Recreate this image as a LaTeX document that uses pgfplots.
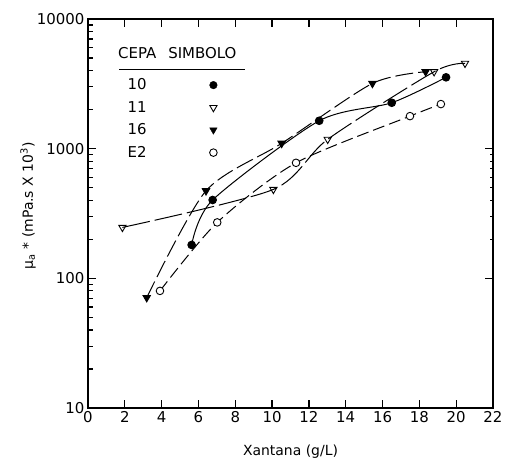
\documentclass[border=0pt]{standalone}
\usepackage{pgfplots}
\pgfplotsset{compat=1.18}
\usepackage{fontspec}
\setmainfont{DejaVu Sans}
\pgfplotsset{every tick/.style={black, line width=1.2pt}}
\pgfplotstableread{
x y
5.63 181
6.77 402
12.56 1641
16.5 2260
19.45 3550
}\tabA
\pgfplotstableread{
x y
1.87 247
10.07 485
13.02 1180
18.8 3920
20.48 4550
}\tabB
\pgfplotstableread{
x y
3.19 71
6.41 473
10.52 1099
15.45 3185
18.34 3920
}\tabC
\pgfplotstableread{
x y
3.91 80
7.02 270
11.3 778
17.49 1782
19.17 2207
}\tabD
\begin{document}
\begin{tikzpicture}
\begin{axis}[
  scale only axis,
  width=405bp, height=389bp,
  xmin=0, xmax=22,
  ymode=log, ymin=10, ymax=10000,
  axis on top,
  tick align=inside,
  xtick={0,2,4,6,8,10,12,14,16,18,20,22},
  xticklabels={0,2,4,6,8,10,12,14,16,18,20,22},
  ytick={10,100,1000,10000},
  yticklabels={10,100,1000,10000},
  minor ytick={20,30,40,50,60,70,80,90,200,300,400,500,600,700,800,900,2000,3000,4000,5000,6000,7000,8000,9000},
  ytick pos=left,
  major tick length=8bp,
  minor tick length=5bp,
  xtick style={black, line width=1.2pt},
  ytick style={black, line width=1.2pt},
  tick label style={font=\fontsize{15}{18}\selectfont},
  xlabel={Xantana (g/L)},
  ylabel={μ\textsubscript{a} * (mPa.s X 10\textsuperscript{3})},
  xlabel style={at={(axis description cs:0.5,-0.113)}, anchor=center, font=\fontsize{14}{17}\selectfont},
  ylabel style={at={(axis description cs:-0.148,0.52)}, anchor=center, font=\fontsize{14}{17}\selectfont},
  axis line style={line width=1.3pt},
  legend style={at={(axis description cs:0.085,0.857)}, anchor=north west, draw=none, fill=none, column sep=61bp, font=\fontsize{15}{18}\selectfont, row sep=6bp},
  legend plot pos=right,
  legend cell align=left,
]
\addlegendimage{only marks, black, mark=*, mark size=3.8bp}
\addlegendentry{10}
\addlegendimage{only marks, black, mark=triangle, mark size=4.2bp, mark options={rotate=180, fill=white, line width=0.9pt}}
\addlegendentry{11}
\addlegendimage{only marks, black, mark=triangle*, mark size=4.2bp, mark options={rotate=180}}
\addlegendentry{16}
\addlegendimage{only marks, black, mark=*, mark size=3.8bp, mark options={fill=white, line width=0.9pt}}
\addlegendentry{E2}

\addplot[forget plot, black, line width=1pt, smooth, tension=0.45, mark=*, mark size=3.8bp] table {\tabA};
\addplot[forget plot, black, line width=1pt, smooth, tension=0.45, dash pattern=on 28bp off 5bp, mark=triangle, mark size=4.2bp, mark options={solid, rotate=180, fill=white, line width=0.9pt}] table {\tabB};
\addplot[forget plot, black, line width=1pt, smooth, tension=0.45, dash pattern=on 18bp off 5bp, mark=triangle*, mark size=4.2bp, mark options={solid, rotate=180}] table {\tabC};
\addplot[forget plot, black, line width=1pt, smooth, tension=0.45, dash pattern=on 12bp off 5bp, mark=*, mark size=3.8bp, mark options={solid, fill=white, line width=0.9pt}] table {\tabD};

\node[anchor=west, font=\fontsize{15}{18}\selectfont, inner sep=0pt] at (rel axis cs:0.074,0.9126) {CEPA\hspace{12bp}SIMBOLO};
\draw[line width=1pt] (rel axis cs:0.077,0.871) -- (rel axis cs:0.388,0.871);
\end{axis}
\begin{axis}[
  scale only axis,
  width=405bp, height=389bp,
  xmin=0, xmax=22,
  ymode=log, ymin=10, ymax=10000,
  tick align=inside,
  xtick=\empty,
  ytick={100,1000},
  yticklabels={},
  minor ytick={},
  ytick pos=right,
  major tick length=8bp,
  ytick style={black, line width=1.2pt},
  axis line style={line width=1.3pt},
]
\end{axis}
\path (current axis.south west) ++(-88bp,-54bp) coordinate (bbsw);
\path (current axis.north east) ++(13bp,19bp) coordinate (bbne);
\pgfresetboundingbox
\path (bbsw) rectangle (bbne);
\end{tikzpicture}
\end{document}
